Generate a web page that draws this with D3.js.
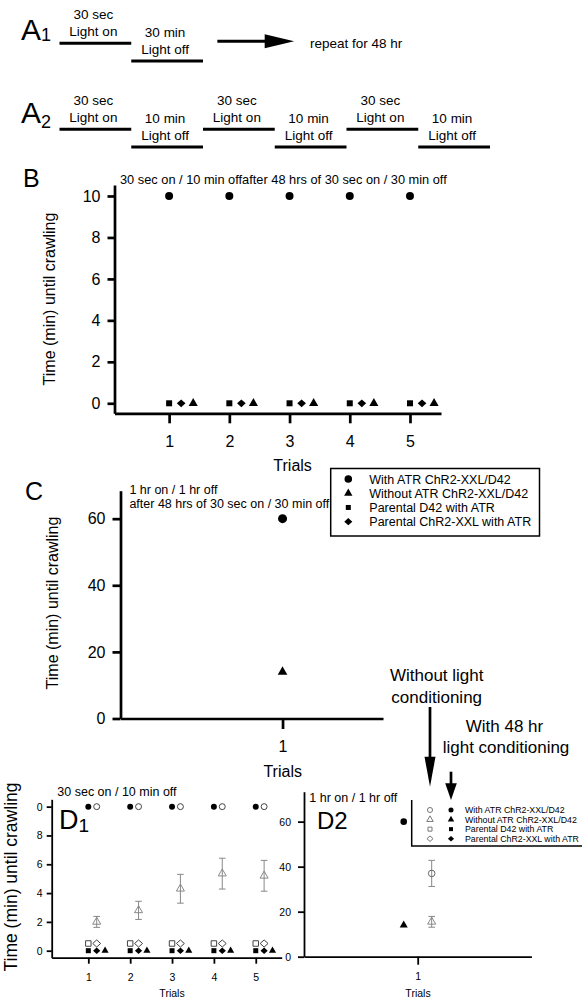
<!DOCTYPE html>
<html lang="en-US">

<head>
    <meta charset="UTF-8" />
    <title>Time until crawling after light conditioning</title>
    <style>
        body {
            margin: 0;
            background: #fff;
        }

        svg text {
            font-family: "Liberation Sans", Arial, Helvetica, sans-serif;
            fill: #000;
        }
    </style>
    <script src="https://d3js.org/d3.v7.min.js"></script>
</head>

<body>
    <div id="container"></div>
    <script>
        // ---- protocol diagrams (A1, A2) ----
        const a1Steps = ["on", "off"];
        const a1Labels = [["30 sec", "Light on"], ["30 min", "Light off"]];
        const a2Steps = ["on", "off", "on", "off", "on", "off"];
        const a2Labels = [
            ["30 sec", "Light on"], ["10 min", "Light off"],
            ["30 sec", "Light on"], ["10 min", "Light off"],
            ["30 sec", "Light on"], ["10 min", "Light off"]
        ];

        // ---- groups / legends ----
        const groups = [
            "With ATR ChR2-XXL/D42",
            "Without ATR ChR2-XXL/D42",
            "Parental D42 with ATR",
            "Parental ChR2-XXL with ATR"
        ];

        const trials = [1, 2, 3, 4, 5];

        // ---- B: 30 sec on / 10 min off after 48 hrs conditioning ----
        const bWithATR = [10, 10, 10, 10, 10];
        const bWithoutATR = [0, 0, 0, 0, 0];
        const bParentalD42 = [0, 0, 0, 0, 0];
        const bParentalChR2 = [0, 0, 0, 0, 0];
        const bYTicks = [0, 2, 4, 6, 8, 10];

        // ---- C: 1 hr on / 1 hr off after 48 hrs conditioning ----
        const cTrials = [1];
        const cWithATR = [60];
        const cWithoutATR = [14];
        const cYTicks = [0, 20, 40, 60];

        // ---- D1: 30 sec on / 10 min off, with vs without conditioning ----
        const d1CondWithATR = [10, 10, 10, 10, 10];
        const d1NoCondWithATR = [10, 10, 10, 10, 10];
        const d1NoCondWithoutATR = [2.0, 2.8, 4.3, 5.35, 5.2];
        const d1NoCondWithoutATRErr = [0.38, 0.63, 1.0, 1.07, 1.07];
        const d1CondWithoutATR = [0, 0, 0, 0, 0];
        const d1NoCondParentalD42 = [0.5, 0.5, 0.5, 0.5, 0.5];
        const d1CondParentalD42 = [0, 0, 0, 0, 0];
        const d1NoCondParentalChR2 = [0.5, 0.5, 0.5, 0.5, 0.5];
        const d1CondParentalChR2 = [0, 0, 0, 0, 0];
        const d1YTicks = [0, 2, 4, 6, 8, 10];
        const d1YTickLabels = ["0", "2", "4", "6", "8", "0"];

        // ---- D2: 1 hr on / 1 hr off ----
        const d2Trials = [1];
        const d2CondWithATR = [60];
        const d2CondWithoutATR = [14];
        const d2NoCondWithATR = [37];
        const d2NoCondWithATRErr = [5.8];
        const d2NoCondWithoutATR = [15.5];
        const d2NoCondWithoutATRErr = [2.4];
        const d2YTicks = [0, 20, 40, 60];

        const svg = d3.select("#container")
            .append("svg")
            .attr("width", 582)
            .attr("height", 1000);

        svg.append("rect").attr("width", 582).attr("height", 1000).attr("fill", "#fff");

        // wide diamond like the original markers
        const symDiamond = {
            draw(ctx, size) {
                const r = Math.sqrt(size) / 2;
                ctx.moveTo(0, -r);
                ctx.lineTo(r * 1.12, 0);
                ctx.lineTo(0, r);
                ctx.lineTo(-r * 1.12, 0);
                ctx.closePath();
            }
        };

        function points(g, x, y, xs, values, o) {
            g.append("g")
                .selectAll("path")
                .data(values)
                .join("path")
                .attr("transform", (d, i) => `translate(${x(xs[i] + (o.dx || 0))},${y(d)})`)
                .attr("d", d3.symbol(o.type, o.size))
                .attr("fill", o.hollow ? "none" : "#000")
                .attr("stroke", o.hollow ? o.color : "none")
                .attr("stroke-width", o.hollow ? (o.sw || 1) : 0);
        }

        function errorBars(g, x, y, xs, means, errs, dx, color, cap) {
            const eb = g.append("g").attr("stroke", color).attr("stroke-width", 1);
            means.forEach((m, i) => {
                const cx = x(xs[i] + dx);
                eb.append("line").attr("x1", cx).attr("x2", cx)
                    .attr("y1", y(m + errs[i])).attr("y2", y(m - errs[i]));
                eb.append("line").attr("x1", cx - cap).attr("x2", cx + cap)
                    .attr("y1", y(m + errs[i])).attr("y2", y(m + errs[i]));
                eb.append("line").attr("x1", cx - cap).attr("x2", cx + cap)
                    .attr("y1", y(m - errs[i])).attr("y2", y(m - errs[i]));
            });
        }

        function leftAxis(y, x0, ticks, o) {
            const ax = d3.axisLeft(y).tickValues(ticks).tickSize(o.tick)
                .tickSizeOuter(0).tickPadding(o.pad);
            if (o.labels) ax.tickFormat((d, i) => o.labels[i]);
            const g = svg.append("g").attr("transform", `translate(${x0},0)`).call(ax);
            g.selectAll("path, line").attr("stroke", "#000").attr("stroke-width", o.sw);
            g.selectAll("text").attr("font-size", o.fs);
            return g;
        }

        function bottomAxis(x, y0, ticks, o) {
            const ax = d3.axisBottom(x).tickValues(ticks).tickSize(o.tick)
                .tickSizeOuter(0).tickPadding(o.pad).tickFormat(d3.format("d"));
            const g = svg.append("g").attr("transform", `translate(0,${y0})`).call(ax);
            g.selectAll("path, line").attr("stroke", "#000").attr("stroke-width", o.sw);
            g.selectAll("text").attr("font-size", o.fs);
            return g;
        }

        function label(x, y, txt, fs, anchor) {
            return svg.append("text").attr("x", x).attr("y", y)
                .attr("font-size", fs).attr("text-anchor", anchor || "start").text(txt);
        }

        function yTitle(cx, cy, fs) {
            svg.append("text")
                .attr("transform", `translate(${cx},${cy}) rotate(-90)`)
                .attr("text-anchor", "middle").attr("dy", "0.35em")
                .attr("font-size", fs)
                .text("Time (min) until crawling");
        }

        function panelLetter(x, y, letter, sub, fs, subFs, subDy) {
            const t = svg.append("text").attr("x", x).attr("y", y).attr("font-size", fs).text(letter);
            if (sub) t.append("tspan").attr("font-size", subFs).attr("dy", subDy).text(sub);
        }

        // ================= A =================
        const xA = d3.scaleLinear().domain([0, 6]).range([59.5, 490]);
        const levelA = d3.scaleOrdinal().domain(["on", "off"]).range([43.3, 61]);

        function schedule(steps, labels, top) {
            const g = svg.append("g").attr("transform", `translate(0,${top})`);
            g.selectAll("line")
                .data(steps)
                .join("line")
                .attr("x1", (d, i) => xA(i)).attr("x2", (d, i) => xA(i + 1))
                .attr("y1", d => levelA(d)).attr("y2", d => levelA(d))
                .attr("stroke", "#000").attr("stroke-width", 3);
            labels.forEach((l, i) => {
                const cx = xA(i + 0.5) - 2;
                const ly = levelA(steps[i]);
                g.append("text").attr("x", cx).attr("y", ly - 24).attr("text-anchor", "middle")
                    .attr("font-size", 13.5).text(l[0]);
                g.append("text").attr("x", cx).attr("y", ly - 7.5).attr("text-anchor", "middle")
                    .attr("font-size", 13.5).text(l[1]);
            });
        }

        panelLetter(21, 40, "A", "1", 30, 18, 1);
        schedule(a1Steps, a1Labels, 0);
        svg.append("line").attr("x1", xA(2.2)).attr("x2", xA(2.9))
            .attr("y1", 41.3).attr("y2", 41.3).attr("stroke", "#000").attr("stroke-width", 3);
        svg.append("path")
            .attr("d", `M${xA(2.86)},34.3 L${xA(3.27)},41.3 L${xA(2.86)},48.3 Z`)
            .attr("fill", "#000");
        label(xA(3.52) - 2, 47.5, "repeat for 48 hr", 13.5);

        panelLetter(21, 123, "A", "2", 30, 18, 5);
        schedule(a2Steps, a2Labels, 86);

        // ================= B =================
        panelLetter(23, 187, "B", null, 25);
        const xB = d3.scaleLinear().domain([0.093, 5.515]).range([114.5, 441]);
        const yB = d3.scaleLinear().domain([-0.483, 10.53]).range([413.3, 185]);
        leftAxis(yB, 114.5, bYTicks, { tick: 7, pad: 7, sw: 2.7, fs: 16 });
        bottomAxis(xB, 413.3, trials, { tick: 10, pad: 12, sw: 2.7, fs: 16 });
        label(120, 184, "30 sec on / 10 min offafter 48 hrs of 30 sec on / 30 min off", 12.8);
        label(292.6, 470.7, "Trials", 16, "middle");
        yTitle(49, 299, 16);
        const gB = svg.append("g");
        points(gB, xB, yB, trials, bWithATR, { type: d3.symbolCircle, size: 50 });
        points(gB, xB, yB, trials, bParentalD42, { type: d3.symbolSquare, size: 36 });
        points(gB, xB, yB, trials, bParentalChR2, { type: symDiamond, size: 60, dx: 0.2 });
        points(gB, xB, yB, trials, bWithoutATR, { type: d3.symbolTriangle, size: 36, dx: 0.4 });

        // ---- legend for B and C ----
        const legC = svg.append("g");
        legC.append("rect").attr("x", 330.7).attr("y", 468.5).attr("width", 208.8).attr("height", 67.5)
            .attr("fill", "#fff").attr("stroke", "#000").attr("stroke-width", 1.5);
        const legSyms = [
            { type: d3.symbolCircle, size: 45 },
            { type: d3.symbolTriangle, size: 30 },
            { type: d3.symbolSquare, size: 25 },
            { type: symDiamond, size: 52 }
        ];
        const legRowC = d3.scalePoint().domain(groups).range([479, 521.7]);
        groups.forEach((name, i) => {
            legC.append("path")
                .attr("transform", `translate(348.3,${legRowC(name)})`)
                .attr("d", d3.symbol(legSyms[i].type, legSyms[i].size))
                .attr("fill", "#000");
            legC.append("text").attr("x", 369.3).attr("y", legRowC(name) + 4.5)
                .attr("font-size", 12.5).text(name);
        });

        // ================= C =================
        panelLetter(25, 500, "C", null, 25);
        const xC = d3.scaleLinear().domain([0, 1.62]).range([120.5, 383]);
        const yC = d3.scaleLinear().domain([0, 68.4]).range([718.5, 490.7]);
        leftAxis(yC, 120.5, cYTicks, { tick: 8, pad: 7, sw: 2.7, fs: 16 });
        bottomAxis(xC, 718.5, cTrials, { tick: 10.5, pad: 12, sw: 2.7, fs: 16 });
        label(129.4, 493.8, "1 hr on / 1 hr off", 12.5);
        label(129.4, 507.8, "after 48 hrs of 30 sec on / 30 min off", 12.5);
        label(282.7, 777.4, "Trials", 16, "middle");
        yTitle(52, 603, 16);
        const gC = svg.append("g");
        points(gC, xC, yC, cTrials, cWithATR, { type: d3.symbolCircle, size: 64 });
        points(gC, xC, yC, cTrials, cWithoutATR, { type: d3.symbolTriangle, size: 40 });

        // ---- conditioning annotations ----
        const hollowX = 430;
        const filledX = 451;
        label(436.7, 681, "Without light", 17, "middle");
        label(436.7, 702.5, "conditioning", 17, "middle");
        label(504.5, 732, "With 48 hr", 17, "middle");
        label(506, 752.5, "light conditioning", 17, "middle");
        svg.append("line").attr("x1", hollowX).attr("x2", hollowX).attr("y1", 707).attr("y2", 760)
            .attr("stroke", "#000").attr("stroke-width", 2.7);
        svg.append("path").attr("d", `M${hollowX - 5.5},756.7 L${hollowX + 5.5},756.7 L${hollowX},786.7 Z`)
            .attr("fill", "#000");
        svg.append("line").attr("x1", filledX).attr("x2", filledX).attr("y1", 771.7).attr("y2", 786)
            .attr("stroke", "#000").attr("stroke-width", 2.7);
        svg.append("path").attr("d", `M${filledX - 5.8},783.3 L${filledX + 5.8},783.3 L${filledX},800 Z`)
            .attr("fill", "#000");

        // ================= D1 =================
        const xD1 = d3.scaleLinear().domain([0.125, 5.62]).range([51.7, 281.7]);
        const yD1 = d3.scaleLinear().domain([-0.486, 10.51]).range([957.7, 799.3]);
        leftAxis(yD1, 51.7, d1YTicks, { tick: 5, pad: 4, sw: 1.8, fs: 10.5, labels: d1YTickLabels });
        bottomAxis(xD1, 957.7, trials, { tick: 6, pad: 9.5, sw: 1.8, fs: 10.5 });
        label(57.3, 796, "30 sec on / 10 min off", 12.5);
        label(172, 997, "Trials", 10.5, "middle");
        yTitle(11, 877, 17.5);
        panelLetter(59, 829, "D", "1", 27, 19, 3);
        const gD1 = svg.append("g");
        errorBars(gD1, xD1, yD1, trials, d1NoCondWithoutATR, d1NoCondWithoutATRErr, 0.2, "#888", 3.3);
        points(gD1, xD1, yD1, trials, d1NoCondWithoutATR, { type: d3.symbolTriangle, size: 28, dx: 0.2, hollow: true, color: "#888" });
        points(gD1, xD1, yD1, trials, d1CondWithATR, { type: d3.symbolCircle, size: 28 });
        points(gD1, xD1, yD1, trials, d1NoCondWithATR, { type: d3.symbolCircle, size: 28, dx: 0.2, hollow: true, color: "#444" });
        points(gD1, xD1, yD1, trials, d1NoCondParentalD42, { type: d3.symbolSquare, size: 30, hollow: true, color: "#444" });
        points(gD1, xD1, yD1, trials, d1NoCondParentalChR2, { type: symDiamond, size: 50, dx: 0.2, hollow: true, color: "#444" });
        points(gD1, xD1, yD1, trials, d1CondParentalD42, { type: d3.symbolSquare, size: 25 });
        points(gD1, xD1, yD1, trials, d1CondParentalChR2, { type: symDiamond, size: 42, dx: 0.2 });
        points(gD1, xD1, yD1, trials, d1CondWithoutATR, { type: d3.symbolTriangle, size: 22, dx: 0.4 });

        // ================= D2 =================
        const xD2 = d3.scaleLinear().domain([0, 2]).range([304, 531.4]);
        const yD2 = d3.scaleLinear().domain([0, 73.3]).range([956.7, 791.7]);
        leftAxis(yD2, 304, d2YTicks, { tick: 6, pad: 7, sw: 1.8, fs: 10.5 });
        bottomAxis(xD2, 956.7, d2Trials, { tick: 8, pad: 8, sw: 1.8, fs: 10.5 });
        label(309.3, 801.5, "1 hr on / 1 hr off", 12.5);
        label(418, 997, "Trials", 10.5, "middle");
        label(317, 829, "D2", 24);
        const gD2 = svg.append("g");
        points(gD2, xD2, yD2, d2Trials, d2CondWithATR, { type: d3.symbolCircle, size: 34, dx: -0.123 });
        points(gD2, xD2, yD2, d2Trials, d2CondWithoutATR, { type: d3.symbolTriangle, size: 28, dx: -0.123 });
        errorBars(gD2, xD2, yD2, d2Trials, d2NoCondWithATR, d2NoCondWithATRErr, 0.123, "#888", 3.3);
        errorBars(gD2, xD2, yD2, d2Trials, d2NoCondWithoutATR, d2NoCondWithoutATRErr, 0.123, "#888", 3.3);
        points(gD2, xD2, yD2, d2Trials, d2NoCondWithATR, { type: d3.symbolCircle, size: 34, dx: 0.123, hollow: true, color: "#666" });
        points(gD2, xD2, yD2, d2Trials, d2NoCondWithoutATR, { type: d3.symbolTriangle, size: 28, dx: 0.123, hollow: true, color: "#888" });

        // ---- legend for D ----
        const legD = svg.append("g");
        legD.append("path").attr("d", "M411.7,800 V846 H582")
            .attr("fill", "none").attr("stroke", "#000").attr("stroke-width", 1.5);
        const legRowD = d3.scalePoint().domain(groups).range([810, 838.7]);
        const legDSyms = [
            { type: d3.symbolCircle, size: 20 },
            { type: d3.symbolTriangle, size: 18 },
            { type: d3.symbolSquare, size: 16 },
            { type: symDiamond, size: 30 }
        ];
        groups.forEach((name, i) => {
            const ry = legRowD(name);
            legD.append("path").attr("transform", `translate(${hollowX},${ry})`)
                .attr("d", d3.symbol(legDSyms[i].type, legDSyms[i].size))
                .attr("fill", "none").attr("stroke", "#777").attr("stroke-width", 1);
            legD.append("path").attr("transform", `translate(${filledX},${ry})`)
                .attr("d", d3.symbol(legDSyms[i].type, legDSyms[i].size))
                .attr("fill", "#000");
            legD.append("text").attr("x", 465).attr("y", ry + 3.2)
                .attr("font-size", 8.8).text(name);
        });
    </script>
</body>

</html>
